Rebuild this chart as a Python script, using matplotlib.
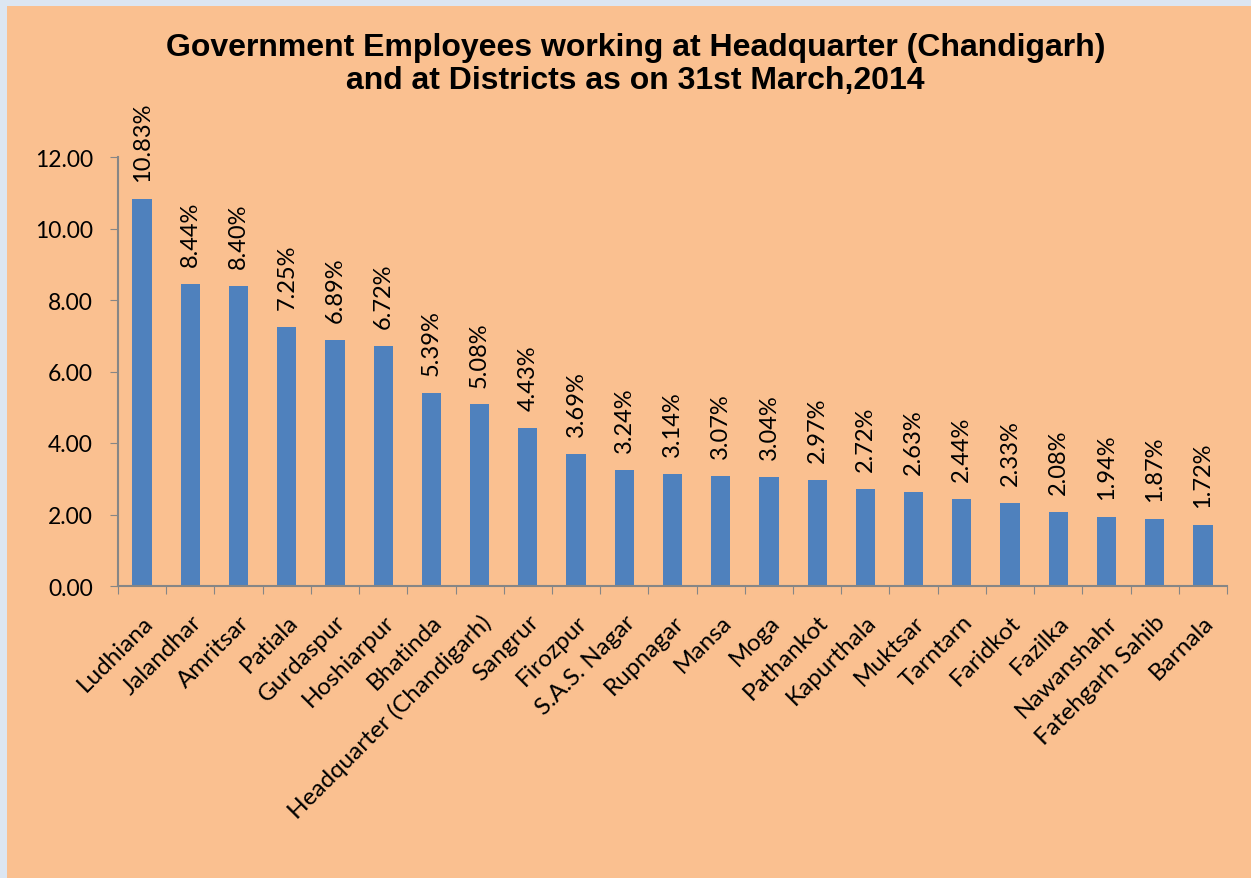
import numpy as np
import matplotlib.pyplot as plt
from matplotlib.patches import Rectangle

# Share of government employees by station (percent)
districts = ['Ludhiana', 'Jalandhar', 'Amritsar', 'Patiala', 'Gurdaspur',
             'Hoshiarpur', 'Bhatinda', 'Headquarter (Chandigarh)', 'Sangrur',
             'Firozpur', 'S.A.S. Nagar', 'Rupnagar', 'Mansa', 'Moga',
             'Pathankot', 'Kapurthala', 'Muktsar', 'Tarntarn', 'Faridkot',
             'Fazilka', 'Nawanshahr', 'Fatehgarh Sahib', 'Barnala']
share = np.array([10.83, 8.44, 8.40, 7.25, 6.89, 6.72, 5.39, 5.08, 4.43,
                  3.69, 3.24, 3.14, 3.07, 3.04, 2.97, 2.72, 2.63, 2.44,
                  2.33, 2.08, 1.94, 1.87, 1.72])
y_ticks = [0, 2, 4, 6, 8, 10, 12]

bg = '#FAC090'
frame = '#DCE6F2'
bar_col = '#4F81BD'
axis_col = '#868686'
label_font = ['Lato', 'DejaVu Sans']

fig = plt.figure(figsize=(12.51, 8.79), dpi=100)
fig.patch.set_facecolor(bg)
# thin light-blue frame on the top and left edges
fig.patches.append(Rectangle((0, 1 - 7 / 879), 1, 7 / 879,
                             transform=fig.transFigure, facecolor=frame,
                             edgecolor='none'))
fig.patches.append(Rectangle((0, 0), 7 / 1251, 1,
                             transform=fig.transFigure, facecolor=frame,
                             edgecolor='none'))

ax = fig.add_axes([118 / 1251, 1 - 587 / 879, 1109 / 1251, 429 / 879])
ax.set_facecolor('none')

x = np.arange(len(districts))
ax.bar(x, share, width=0.4, color=bar_col, zorder=2)

for xi, v in zip(x, share):
    ax.text(xi, v + 0.5, f'{v:.2f}%', rotation=90, ha='center', va='bottom',
            fontsize=17, family=label_font)

ax.set_xlim(-0.5, len(districts) - 0.5)
ax.set_ylim(0, 12)
ax.set_yticks(y_ticks)
ax.set_yticklabels([f'{t:.2f}' for t in y_ticks], fontsize=16.5, family=label_font)

# tick marks sit between categories
ax.set_xticks(np.arange(-0.5, len(districts), 1))
ax.set_xticklabels([])
ax.set_xticks(x, minor=True)
ax.set_xticklabels(districts, minor=True, rotation=45, ha='right',
                   rotation_mode='anchor', fontsize=17.5, family=label_font)
ax.tick_params(axis='x', which='minor', length=0, pad=18)
ax.tick_params(axis='x', which='major', length=6, color=axis_col, direction='out')
ax.tick_params(axis='y', length=6, color=axis_col, pad=12)

for side in ['top', 'right']:
    ax.spines[side].set_visible(False)
for side in ['left', 'bottom']:
    ax.spines[side].set_color(axis_col)
    ax.spines[side].set_linewidth(1.5)

fig.text(0.508, 0.962, 'Government Employees working at Headquarter (Chandigarh)\n'
         'and at Districts as on 31st March,2014', ha='center', va='top',
         fontsize=23, fontweight='bold', family='Liberation Sans',
         linespacing=1.12)

fig.savefig('out.png', dpi=100, facecolor=fig.get_facecolor())
